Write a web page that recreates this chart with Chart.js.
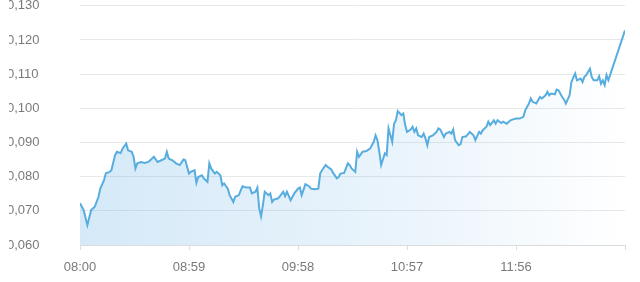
<!DOCTYPE html>
<html>
<head>
<meta charset="utf-8">
<script src="https://cdn.jsdelivr.net/npm/chart.js@4.4.1/dist/chart.umd.min.js"></script>
<style>
  html, body { margin: 0; padding: 0; background: #fff; }
  #outer { position: relative; width: 640px; height: 282px; overflow: hidden; }
  #clip { position: absolute; left: 9px; top: 0; width: 631px; height: 282px; overflow: hidden; }
  #box { position: absolute; left: -2px; top: 0; width: 633px; height: 282px; }
</style>
</head>
<body>
<div id="outer"><div id="clip"><div id="box"><canvas id="price-chart"></canvas></div></div></div>
<script>
// minutes after 08:00
const times = [0, 2, 4, 6, 8, 10, 11, 13, 14, 16, 17, 19, 20, 22, 23, 25, 26, 28, 29, 30,
  31, 33, 35, 37, 38, 40, 42, 44, 46, 47, 48, 50, 52, 54, 56, 57, 59, 60, 62, 63,
  64, 66, 67, 69, 70, 71, 73, 74, 76, 77, 78, 80, 81, 83, 84, 86, 87, 88, 90, 92,
  93, 95, 96, 97, 98, 99, 100, 102, 103, 104, 105, 107, 108, 110, 111, 112, 114, 116, 118, 119,
  120, 122, 124, 125, 127, 129, 130, 131, 133, 134, 136, 137, 139, 140, 141, 143, 145, 146, 147, 149,
  150, 151, 153, 155, 157, 159, 160, 161, 162, 163, 165, 166, 167, 169, 170, 171, 172, 174, 175, 176,
  177, 179, 180, 181, 182, 183, 185, 186, 187, 188, 189, 191, 193, 194, 195, 197, 198, 200, 201, 202,
  203, 205, 206, 207, 209, 211, 213, 214, 216, 217, 218, 220, 221, 222, 224, 225, 226, 228, 229, 231,
  233, 234, 236, 238, 240, 241, 243, 244, 245, 247, 248, 249, 250, 252, 253, 254, 255, 257, 258, 259,
  261, 262, 263, 265, 266, 268, 269, 271, 272, 273, 274, 276, 277, 278, 280, 281, 282, 283, 284, 285,
  286, 295];

const prices = [0.0722, 0.0702, 0.0658, 0.0702, 0.0712, 0.0741, 0.0765, 0.0790, 0.0810, 0.0814, 0.0819, 0.0863, 0.0873, 0.0869, 0.0882, 0.0897, 0.0877, 0.0873, 0.0858, 0.0824,
  0.0839, 0.0843, 0.0840, 0.0843, 0.0848, 0.0858, 0.0843, 0.0848, 0.0853, 0.0873, 0.0853, 0.0848, 0.0839, 0.0834, 0.0850, 0.0848, 0.0809, 0.0814, 0.0819, 0.0782,
  0.0799, 0.0804, 0.0795, 0.0785, 0.0839, 0.0824, 0.0809, 0.0814, 0.0804, 0.0775, 0.0780, 0.0765, 0.0746, 0.0726, 0.0741, 0.0746, 0.0760, 0.0772, 0.0768, 0.0768,
  0.0751, 0.0756, 0.0768, 0.0707, 0.0684, 0.0717, 0.0756, 0.0746, 0.0751, 0.0726, 0.0733, 0.0736, 0.0741, 0.0756, 0.0743, 0.0756, 0.0731, 0.0751, 0.0765, 0.0768,
  0.0746, 0.0778, 0.0772, 0.0765, 0.0763, 0.0765, 0.0809, 0.0819, 0.0834, 0.0829, 0.0821, 0.0811, 0.0795, 0.0799, 0.0809, 0.0811, 0.0839, 0.0834, 0.0824, 0.0814,
  0.0873, 0.0858, 0.0873, 0.0875, 0.0882, 0.0902, 0.0921, 0.0907, 0.0873, 0.0834, 0.0868, 0.0863, 0.0941, 0.0902, 0.0955, 0.0965, 0.0992, 0.0980, 0.0985, 0.0951,
  0.0931, 0.0938, 0.0946, 0.0931, 0.0941, 0.0921, 0.0916, 0.0926, 0.0912, 0.0892, 0.0916, 0.0921, 0.0931, 0.0941, 0.0938, 0.0916, 0.0926, 0.0931, 0.0926, 0.0938,
  0.0907, 0.0892, 0.0895, 0.0916, 0.0918, 0.0931, 0.0921, 0.0907, 0.0931, 0.0926, 0.0936, 0.0946, 0.0961, 0.0951, 0.0965, 0.0955, 0.0965, 0.0957, 0.0961, 0.0955,
  0.0965, 0.0967, 0.0970, 0.0970, 0.0975, 0.0994, 0.1014, 0.1029, 0.1019, 0.1014, 0.1024, 0.1033, 0.1029, 0.1038, 0.1048, 0.1038, 0.1043, 0.1041, 0.1055, 0.1053,
  0.1033, 0.1026, 0.1014, 0.1038, 0.1077, 0.1102, 0.1082, 0.1087, 0.1077, 0.1092, 0.1097, 0.1116, 0.1092, 0.1082, 0.1082, 0.1094, 0.1072, 0.1082, 0.1068, 0.1097,
  0.1082, 0.1228];

const xTicks = [0, 59, 118, 177, 236, 295];
const yTicks = [0.06, 0.07, 0.08, 0.09, 0.10, 0.11, 0.12, 0.13];

function timeLabel(min) {
  const t = 8 * 60 + min;
  const h = Math.floor(t / 60), m = t % 60;
  return String(h).padStart(2, '0') + ':' + String(m).padStart(2, '0');
}

function fillGradient(context) {
  const area = context.chart.chartArea;
  if (!area) return 'rgba(90,170,225,0.2)';
  const g = context.chart.ctx.createLinearGradient(area.left, 0, area.right, 0);
  g.addColorStop(0, 'rgba(88,168,228,0.25)');
  g.addColorStop(0.6, 'rgba(88,168,228,0.12)');
  g.addColorStop(1, 'rgba(88,168,228,0.0)');
  return g;
}

const ctx = document.getElementById('price-chart').getContext('2d');
window.priceChart = new Chart(ctx, {
  type: 'line',
  data: {
    datasets: [{
      data: times.map((t, i) => ({ x: t, y: prices[i] })),
      borderColor: '#58addf',
      borderWidth: 2,
      backgroundColor: fillGradient,
      fill: 'start',
      pointRadius: 0,
      tension: 0
    }]
  },
  options: {
    responsive: true,
    maintainAspectRatio: false,
    animation: false,
    layout: { padding: { top: 0, right: 15, bottom: 6, left: 0 } },
    plugins: { legend: { display: false }, tooltip: { enabled: false } },
    scales: {
      x: {
        type: 'linear',
        min: 0,
        max: 295,
        afterBuildTicks: scale => { scale.ticks = xTicks.map(v => ({ value: v })); },
        afterFit: scale => { scale.height = 31; },
        ticks: {
          color: '#7a7a7a',
          font: { family: 'Liberation Sans, Arial, sans-serif', size: 13 },
          padding: 10,
          maxRotation: 0,
          autoSkip: false,
          callback: v => v === 295 ? '' : timeLabel(v)
        },
        grid: { drawOnChartArea: false, drawTicks: true, tickLength: 5, color: '#dcdcdc' },
        border: { color: '#dcdcdc' }
      },
      y: {
        min: 0.06,
        max: 0.13,
        afterBuildTicks: scale => { scale.ticks = yTicks.map(v => ({ value: v })); },
        afterFit: scale => { scale.width = 73; },
        ticks: {
          color: '#7a7a7a',
          font: { family: 'Liberation Sans, Arial, sans-serif', size: 13 },
          padding: -2,
          crossAlign: 'far',
          callback: v => v.toFixed(3).replace('.', ',')
        },
        grid: { drawTicks: false, color: '#e8e8e8' },
        border: { display: false }
      }
    }
  }
});
</script>
</body>
</html>
